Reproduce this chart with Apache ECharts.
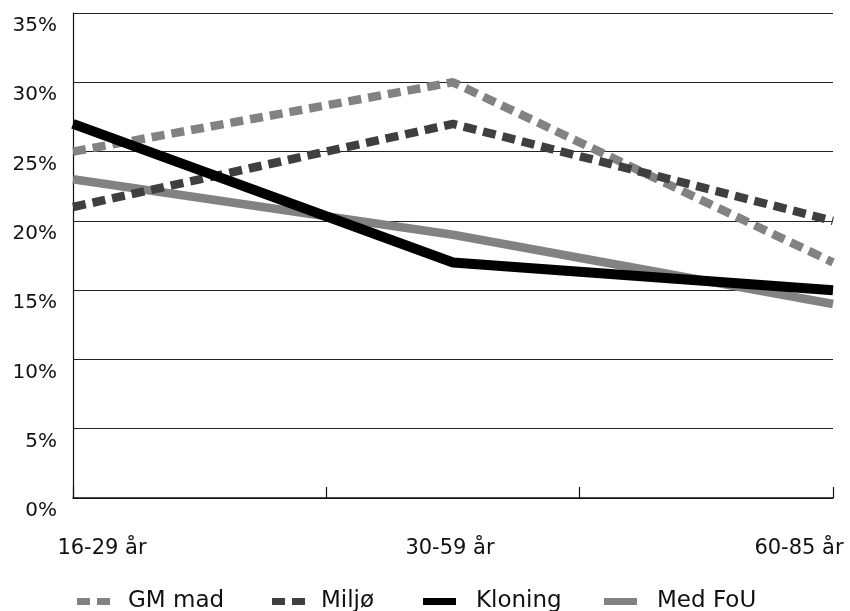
<!DOCTYPE html>
<html>
<head>
<meta charset="utf-8">
<script src="https://cdn.jsdelivr.net/npm/echarts@6/dist/echarts.min.js"></script>
<style>
  html, body { margin: 0; padding: 0; background: #fff; }
  #chart { width: 850px; height: 611px; }
</style>
</head>
<body>
<div id="chart"></div>
<script>
// Age groups on the category axis
const categories = ['16-29 år', '30-59 år', '60-85 år'];

// Share of respondents per topic (percent)
const gmMad   = [25, 30, 17];
const miljo   = [21, 27, 20];
const kloning = [27, 17, 15];
const medFoU  = [23, 19, 14];

// Y axis range and step (percent)
const yMin = 0, yMax = 35, yStep = 5;

const FONT = '"DejaVu Sans", "Liberation Sans", Arial, sans-serif';

const chart = echarts.init(document.getElementById('chart'), null, { renderer: 'canvas' });

// Horizontal shift for each category label (rich-text padding moves text by half its size)
const labelPads = [[0, 0, 0, 58], [0, 6, 0, 0], [0, 68, 0, 0]];
const rich = {};
labelPads.forEach((p, i) => {
  rich['c' + i] = { fontSize: 21, fontFamily: FONT, color: '#111', padding: p };
});

// Legend icons: two short bars for dashed series, one bar for solid ones
const DASH_ICON = 'path://M0,0H13V7H0Z M20,0H33V7H20Z';
const SOLID_ICON = 'path://M0,0H33V7H0Z';

function legendAt(name, icon, color, left, textPadLeft) {
  return {
    data: [{ name: name, icon: icon, itemStyle: { color: color, borderWidth: 0 } }],
    left: left,
    top: 590,
    padding: 0,
    itemWidth: 33,
    itemHeight: 7,
    textStyle: { fontSize: 23, fontFamily: FONT, color: '#111', padding: [0, 0, 8, textPadLeft] },
    selectedMode: false
  };
}

const option = {
  animation: false,
  backgroundColor: '#fff',
  grid: { left: 73, right: 17, top: 13, bottom: 113, containLabel: false },
  legend: [
    legendAt('GM mad', DASH_ICON, '#828282', 77, 13),
    legendAt('Miljø', DASH_ICON, '#3f3f3f', 272, 11),
    legendAt('Kloning', SOLID_ICON, '#000', 423, 15),
    legendAt('Med FoU', SOLID_ICON, '#828282', 604, 15)
  ],
  xAxis: [
    {
      type: 'category',
      data: categories,
      boundaryGap: false,
      axisLine: { show: true, lineStyle: { color: '#111', width: 1.5 } },
      axisTick: { show: false },
      splitLine: { show: false },
      axisLabel: {
        margin: 40,
        interval: 0,
        formatter: (v, i) => '{c' + i + '|' + v + '}',
        rich: rich
      }
    },
    {
      // tick marks dividing the axis into thirds
      type: 'value',
      min: 0, max: 3, interval: 1,
      position: 'bottom',
      axisLine: { show: false },
      axisTick: { show: true, inside: true, length: 11, lineStyle: { color: '#111', width: 1.2 } },
      axisLabel: { show: false },
      splitLine: { show: false }
    }
  ],
  yAxis: {
    type: 'value',
    min: yMin, max: yMax, interval: yStep,
    axisLine: { show: true, lineStyle: { color: '#111', width: 1.2 } },
    axisTick: { show: false },
    splitLine: { show: true, lineStyle: { color: '#222', width: 1 } },
    axisLabel: {
      formatter: '{value}%',
      fontSize: 20,
      fontFamily: FONT,
      color: '#111',
      margin: 16,
      verticalAlign: 'top',
      padding: [3, 0, 0, 0]
    }
  },
  series: [
    {
      name: 'GM mad', type: 'line', data: gmMad, xAxisIndex: 0,
      showSymbol: false, symbol: 'none', z: 2,
      lineStyle: { color: '#828282', width: 8.5, type: [13, 7], cap: 'butt' },
      itemStyle: { color: '#828282' }
    },
    {
      name: 'Miljø', type: 'line', data: miljo, xAxisIndex: 0,
      showSymbol: false, symbol: 'none', z: 3,
      lineStyle: { color: '#3f3f3f', width: 8.5, type: [13, 7], cap: 'butt' },
      itemStyle: { color: '#3f3f3f' }
    },
    {
      name: 'Kloning', type: 'line', data: kloning, xAxisIndex: 0,
      showSymbol: false, symbol: 'none', z: 5,
      lineStyle: { color: '#000', width: 10 },
      itemStyle: { color: '#000' }
    },
    {
      name: 'Med FoU', type: 'line', data: medFoU, xAxisIndex: 0,
      showSymbol: false, symbol: 'none', z: 1,
      lineStyle: { color: '#828282', width: 8.5 },
      itemStyle: { color: '#828282' }
    }
  ]
};

chart.setOption(option);
</script>
</body>
</html>
